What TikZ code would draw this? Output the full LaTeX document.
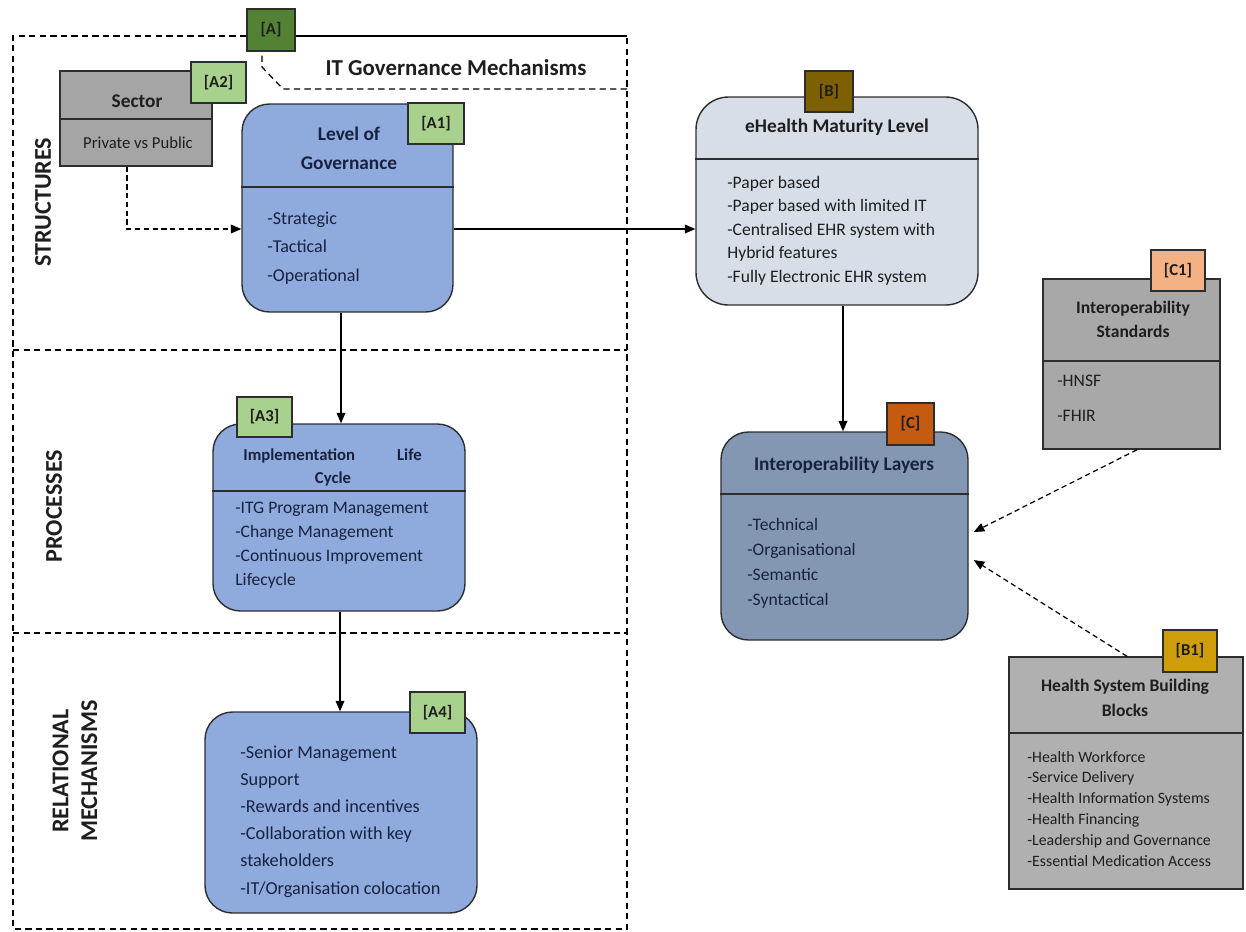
\documentclass[tikz,border=0pt]{standalone}
\usepackage{fontspec}
\setmainfont{Carlito}
\usetikzlibrary{arrows.meta,fit}

\definecolor{govblue}{RGB}{143,170,220}
\definecolor{maturity}{RGB}{216,222,232}
\definecolor{layerblue}{RGB}{132,151,178}
\definecolor{sectorgrey}{RGB}{165,165,165}
\definecolor{stdgrey}{RGB}{168,168,168}
\definecolor{blockgrey}{RGB}{176,176,176}
\definecolor{taggreen}{RGB}{169,209,142}
\definecolor{tagdark}{RGB}{84,130,53}
\definecolor{tagbrown}{RGB}{127,96,0}
\definecolor{tagorange}{RGB}{197,90,17}
\definecolor{tagpeach}{RGB}{244,177,131}
\definecolor{taggold}{RGB}{206,158,10}
\definecolor{navyink}{RGB}{24,34,64}
\definecolor{darkink}{RGB}{30,30,30}
\definecolor{edge}{RGB}{45,45,45}

\begin{document}
\begin{tikzpicture}[x=0.02cm,y=-0.02cm,
  box/.style={draw=edge, line width=0.8pt, inner sep=0pt},
  roundbox/.style={box, rounded corners=0.55cm},
  tag/.style={draw=edge, line width=0.8pt, inner sep=0pt},
  tagtext/.style={inner sep=0pt, text=darkink, font=\fontsize{9.5}{10}\selectfont\bfseries},
  divider/.style={draw=edge, line width=0.8pt},
  heading/.style={anchor=base, inner sep=0pt, text=darkink,
    font=\fontsize{11}{13}\selectfont\bfseries},
  entry/.style={anchor=base west, inner sep=0pt, text=darkink,
    font=\fontsize{10}{12}\selectfont},
  section/.style={rotate=90, inner sep=0pt, align=center, text=darkink,
    font=\fontsize{13.7}{16.4}\selectfont\bfseries},
  frameline/.style={line width=0.7pt, dash pattern=on 3.6pt off 2.4pt},
  conn/.style={-{Triangle[length=6pt,width=5pt]}, line width=0.7pt},
  dconn/.style={conn, dash pattern=on 3pt off 2pt},
]
\useasboundingbox (0,0) rectangle (1246,931);

% ---------- IT governance frame and its callout title ----------
\node[tag, fill=tagdark, fit={(247,9)(295,51)}, label={[tagtext]center:{[A]}}] (tagA) {};
\draw[frameline] (tagA.west |- 0,36) -- (13,36) -- (13,929) -- (627,929) -- (627,36);
\draw[line width=0.7pt] (tagA.east |- 0,36) -- (627,36);
\draw[frameline] (627,89) -- (283,89) -- (262,67) -- (tagA.south -| 262,0);
\draw[frameline] (13,350) -- (627,350);
\draw[frameline] (13,633) -- (627,633);
\node[anchor=base, inner sep=0pt, text=darkink, font=\fontsize{13}{15}\selectfont\bfseries]
  (itgm) at (456,75) {IT Governance Mechanisms};

\node[section] (structures) at (43,202) {STRUCTURES};
\node[section] (processes) at (54,506) {PROCESSES};
\node[section] (relational) at (75,771) {RELATIONAL\\MECHANISMS};

% ---------- Sector ----------
\node[box, fill=sectorgrey, fit={(60,71)(212,166)}] (sector) {};
\draw[divider] (sector.west |- 0,119) -- (sector.east |- 0,119);
\node[heading] (sector-t) at (137,107) {Sector};
\node[entry, anchor=base, font=\fontsize{9.5}{11}\selectfont] (sector-i) at (138,148) {Private vs Public};
\node[tag, fill=taggreen, fit={(191,62)(246,103)}, label={[tagtext]center:{[A2]}}] (tagA2) {};

% ---------- Level of governance ----------
\node[roundbox, fill=govblue, fit={(242,104)(453,312)}] (a1) {};
\draw[divider] (a1.west |- 0,187) -- (a1.east |- 0,187);
\node[heading, text=navyink] (a1-t1) at (349,140) {Level of};
\node[heading, text=navyink] (a1-t2) at (349,169) {Governance};
\foreach \txt [count=\k from 0] in {-Strategic,-Tactical,-Operational}
  \node[entry, text=navyink, font=\fontsize{10.3}{12}\selectfont] (a1-i\k) at (267,{224+28.5*\k}) {\txt};
\node[tag, fill=taggreen, fit={(408,103)(464,144)}, label={[tagtext]center:{[A1]}}] (tagA1) {};

% ---------- Implementation life cycle ----------
\node[roundbox, fill=govblue, fit={(213,424)(465,611)}] (a3) {};
\draw[divider] (a3.west |- 0,491) -- (a3.east |- 0,491);
\node[heading, anchor=base west, text=navyink, font=\fontsize{9.5}{11}\selectfont\bfseries]
  (a3-t1) at (243,460) {Implementation};
\node[heading, anchor=base east, text=navyink, font=\fontsize{9.5}{11}\selectfont\bfseries]
  (a3-t2) at (422,460) {Life};
\node[heading, text=navyink, font=\fontsize{9.5}{11}\selectfont\bfseries]
  (a3-t3) at (333,483) {Cycle};
\foreach \txt [count=\k from 0] in {-ITG Program Management,-Change Management,-Continuous Improvement,Lifecycle}
  \node[entry, text=navyink] (a3-i\k) at (235,{513+24*\k}) {\txt};
\node[tag, fill=taggreen, fit={(237,397)(292,437)}, label={[tagtext]center:{[A3]}}] (tagA3) {};

% ---------- Relational mechanisms ----------
\node[roundbox, fill=govblue, fit={(205,712)(477,913)}] (a4) {};
\foreach \txt [count=\k from 0] in {-Senior Management,Support,-Rewards and incentives,-Collaboration with key,stakeholders,-IT/Organisation colocation}
  \node[entry, text=navyink, font=\fontsize{10.4}{12}\selectfont] (a4-i\k) at (240,{758+27.2*\k}) {\txt};
\node[tag, fill=taggreen, fit={(410,692)(465,733)}, label={[tagtext]center:{[A4]}}] (tagA4) {};

% ---------- eHealth maturity level ----------
\node[roundbox, rounded corners=0.65cm, fill=maturity, fit={(696,97)(978,305)}] (b) {};
\draw[divider] (b.west |- 0,159) -- (b.east |- 0,159);
\node[heading] (b-t) at (837,132) {eHealth Maturity Level};
\foreach \txt [count=\k from 0] in {-Paper based,-Paper based with limited IT,-Centralised EHR system with,Hybrid features,-Fully Electronic EHR system}
  \node[entry] (b-i\k) at (727,{188+23.6*\k}) {\txt};
\node[tag, fill=tagbrown, fit={(805,71)(853,112)}, label={[tagtext]center:{[B]}}] (tagB) {};

% ---------- Interoperability layers ----------
\node[roundbox, fill=layerblue, fit={(721,432)(968,640)}] (c) {};
\draw[divider] (c.west |- 0,494) -- (c.east |- 0,494);
\node[heading, text=navyink] (c-t) at (844,470) {Interoperability Layers};
\foreach \txt [count=\k from 0] in {-Technical,-Organisational,-Semantic,-Syntactical}
  \node[entry, text=navyink] (c-i\k) at (747,{530+25.3*\k}) {\txt};
\node[tag, fill=tagorange, fit={(887,403)(934,445)}, label={[tagtext]center:{[C]}}] (tagC) {};

% ---------- Interoperability standards ----------
\node[box, fill=stdgrey, fit={(1043,279)(1220,449)}] (c1) {};
\draw[divider] (c1.west |- 0,361) -- (c1.east |- 0,361);
\node[heading, font=\fontsize{10}{12}\selectfont\bfseries] (c1-t1) at (1133,313) {Interoperability};
\node[heading, font=\fontsize{10}{12}\selectfont\bfseries] (c1-t2) at (1133,337) {Standards};
\node[entry] (c1-i0) at (1057,386) {-HNSF};
\node[entry] (c1-i1) at (1057,421) {-FHIR};
\node[tag, fill=tagpeach, fit={(1151,250)(1205,291)}, label={[tagtext]center:{[C1]}}] (tagC1) {};

% ---------- Health system building blocks ----------
\node[box, fill=blockgrey, fit={(1009,657)(1243,889)}] (b1) {};
\draw[divider] (b1.west |- 0,733) -- (b1.east |- 0,733);
\node[heading, font=\fontsize{10}{12}\selectfont\bfseries] (b1-t1) at (1125,691) {Health System Building};
\node[heading, font=\fontsize{10}{12}\selectfont\bfseries] (b1-t2) at (1125,716) {Blocks};
\foreach \txt [count=\k from 0] in {-Health Workforce,-Service Delivery,-Health Information Systems,-Health Financing,-Leadership and Governance,-Essential Medication Access}
  \node[entry, font=\fontsize{9}{11}\selectfont] (b1-i\k) at (1027,{762+20.8*\k}) {\txt};
\node[tag, fill=taggold, fit={(1163,630)(1217,672)}, label={[tagtext]center:{[B1]}}] (tagB1) {};

% ---------- Connectors ----------
\draw[dconn] (sector.south -| 127,0) |- (a1.west |- 0,229);
\draw[conn] (a1.east |- 0,229) -- (b.west |- 0,229);
\draw[conn] (a1.south -| 341,0) -- (a3.north -| 341,0);
\draw[conn] (a3.south -| 340,0) -- (a4.north -| 340,0);
\draw[conn] (b.south -| 843,0) -- (c.north -| 843,0);
\draw[dconn] (c1.south -| 1137,0) -- ([xshift=0.1cm]c.east |- 0,532);
\draw[dconn] (b1.north -| 1127,0) -- ([xshift=0.1cm]c.east |- 0,560);
\end{tikzpicture}
\end{document}
